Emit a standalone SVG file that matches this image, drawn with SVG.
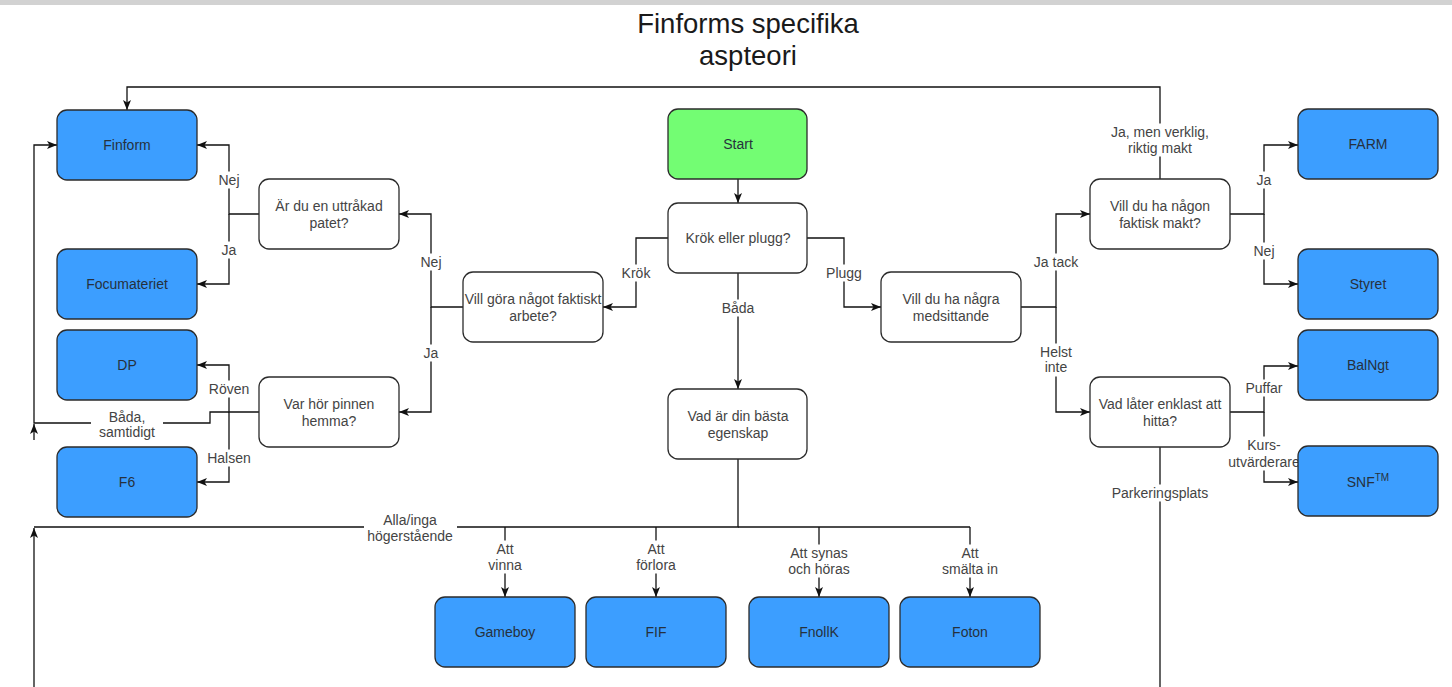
<svg xmlns="http://www.w3.org/2000/svg" width="1452" height="687" viewBox="0 0 1452 687">
<defs>
<style>
.box{stroke:#2b2b2b;stroke-width:1.3}
.q{fill:#ffffff}
.b{fill:#3c9eff}
.g{fill:#73fd73}
.t{font-family:"Liberation Sans",Arial,sans-serif;font-size:14px;fill:#444444;text-anchor:middle}
.bt{fill:#26313d}
.e{fill:none;stroke:#111111;stroke-width:1.3}
.lb{fill:#ffffff;stroke:none}
.title{font-family:"Liberation Sans",Arial,sans-serif;font-size:27.5px;fill:#1a1a1a;text-anchor:middle}
</style>
<marker id="arr" viewBox="0 0 10 8" refX="10" refY="4" markerWidth="10" markerHeight="8" markerUnits="userSpaceOnUse" orient="auto">
<path d="M0,0 L10,4 L0,8 L2.5,4 Z" fill="#111111"/>
</marker>
</defs>
<rect x="0" y="0" width="1452" height="687" fill="#ffffff"/>
<rect x="0" y="0" width="1452" height="5" fill="#d2d2d2"/>

<g id="title">
<text class="title" x="748" y="33">Finforms specifika</text>
<text class="title" x="748" y="65">aspteori</text>
</g>

<g id="connectors">
<path class="e" d="M738,179 V203" marker-end="url(#arr)"/>
<path class="e" d="M668,238 H636 V307 H603" marker-end="url(#arr)"/>
<path class="e" d="M807,238 H844 V307 H881" marker-end="url(#arr)"/>
<path class="e" d="M738,273 V389" marker-end="url(#arr)"/>
<path class="e" d="M463,307 H431 V214 H399" marker-end="url(#arr)"/>
<path class="e" d="M431,307 V412 H399" marker-end="url(#arr)"/>
<path class="e" d="M259,214 H229 V145 H197" marker-end="url(#arr)"/>
<path class="e" d="M229,214 V284 H197" marker-end="url(#arr)"/>
<path class="e" d="M259,412 H229 V365 H197" marker-end="url(#arr)"/>
<path class="e" d="M229,412 V482 H197" marker-end="url(#arr)"/>
<path class="e" d="M229,412 H210 V423 H34 V145 H57" marker-end="url(#arr)"/>
<path class="e" d="M34,440 V424" marker-end="url(#arr)"/>
<path class="e" d="M738,459 V527 H34"/>
<path class="e" d="M34,687 V528" marker-end="url(#arr)"/>
<path class="e" d="M738,527 H970"/>
<path class="e" d="M505,527 V597" marker-end="url(#arr)"/>
<path class="e" d="M656,527 V597" marker-end="url(#arr)"/>
<path class="e" d="M819,527 V597" marker-end="url(#arr)"/>
<path class="e" d="M970,527 V597" marker-end="url(#arr)"/>
<path class="e" d="M1021,307 H1056 V214 H1090" marker-end="url(#arr)"/>
<path class="e" d="M1056,307 V412 H1090" marker-end="url(#arr)"/>
<path class="e" d="M1230,214 H1264 V145 H1298" marker-end="url(#arr)"/>
<path class="e" d="M1264,214 V284 H1298" marker-end="url(#arr)"/>
<path class="e" d="M1160,179 V87 H127 V110" marker-end="url(#arr)"/>
<path class="e" d="M1230,412 H1264 V366 H1298" marker-end="url(#arr)"/>
<path class="e" d="M1264,412 V482 H1298" marker-end="url(#arr)"/>
<path class="e" d="M1160,446 V687"/>

<rect class="lb" x="215" y="171.5" width="28" height="17"/>
<text class="t" x="229" y="185">Nej</text>
<rect class="lb" x="220" y="241.5" width="18" height="17"/>
<text class="t" x="229" y="255">Ja</text>
<rect class="lb" x="417" y="253.5" width="28" height="17"/>
<text class="t" x="431" y="267">Nej</text>
<rect class="lb" x="422" y="344.5" width="18" height="17"/>
<text class="t" x="431" y="358">Ja</text>
<rect class="lb" x="207" y="380.5" width="44" height="17"/>
<text class="t" x="229" y="394">Röven</text>
<rect class="lb" x="205" y="449.5" width="48" height="17"/>
<text class="t" x="229" y="463">Halsen</text>
<rect class="lb" x="91" y="408.5" width="72" height="32"/>
<text class="t" x="127" y="422">Båda,</text>
<text class="t" x="127" y="437">samtidigt</text>
<rect class="lb" x="364" y="511.5" width="93" height="33"/>
<text class="t" x="410" y="525">Alla/inga</text>
<text class="t" x="410" y="541">högerstående</text>
<rect class="lb" x="619" y="264.5" width="34" height="17"/>
<text class="t" x="636" y="278">Krök</text>
<rect class="lb" x="825" y="264.5" width="38" height="17"/>
<text class="t" x="844" y="278">Plugg</text>
<rect class="lb" x="719" y="299.5" width="38" height="17"/>
<text class="t" x="738" y="313">Båda</text>
<rect class="lb" x="485" y="540.5" width="40" height="33"/>
<text class="t" x="505" y="554">Att</text>
<text class="t" x="505" y="570">vinna</text>
<rect class="lb" x="634" y="540.5" width="44" height="33"/>
<text class="t" x="656" y="554">Att</text>
<text class="t" x="656" y="570">förlora</text>
<rect class="lb" x="786" y="544.5" width="66" height="33"/>
<text class="t" x="819" y="558">Att synas</text>
<text class="t" x="819" y="574">och höras</text>
<rect class="lb" x="940" y="544.5" width="60" height="33"/>
<text class="t" x="970" y="558">Att</text>
<text class="t" x="970" y="574">smälta in</text>
<rect class="lb" x="1031" y="253.5" width="50" height="17"/>
<text class="t" x="1056" y="267">Ja tack</text>
<rect class="lb" x="1037" y="343.5" width="38" height="33"/>
<text class="t" x="1056" y="357">Helst</text>
<text class="t" x="1056" y="372">inte</text>
<rect class="lb" x="1255" y="171.5" width="18" height="17"/>
<text class="t" x="1264" y="185">Ja</text>
<rect class="lb" x="1250" y="242.5" width="28" height="17"/>
<text class="t" x="1264" y="256">Nej</text>
<rect class="lb" x="1109" y="123.5" width="102" height="33"/>
<text class="t" x="1160" y="137">Ja, men verklig,</text>
<text class="t" x="1160" y="153">riktig makt</text>
<rect class="lb" x="1242" y="379.5" width="44" height="17"/>
<text class="t" x="1264" y="393">Puffar</text>
<rect class="lb" x="1228" y="436.5" width="72" height="34"/>
<text class="t" x="1264" y="450">Kurs-</text>
<text class="t" x="1264" y="467">utvärderare</text>
<rect class="lb" x="1110" y="484.5" width="100" height="17"/>
<text class="t" x="1160" y="498">Parkeringsplats</text>
</g>

<g id="node-start"><rect class="box g" x="668" y="109" width="139" height="70" rx="10"/><text class="t bt" x="738" y="149">Start</text></g>
<g id="node-krok"><rect class="box q" x="668" y="203" width="139" height="70" rx="10"/><text class="t" x="738" y="243">Krök eller plugg?</text></g>
<g id="node-vad-basta"><rect class="box q" x="668" y="389" width="139" height="70" rx="10"/><text class="t" x="738" y="420.5">Vad är din bästa</text><text class="t" x="738" y="437.5">egenskap</text></g>
<g id="node-vill-gora"><rect class="box q" x="463" y="272" width="140" height="70" rx="10"/><text class="t" x="533" y="303.5">Vill göra något faktiskt</text><text class="t" x="533" y="320.5">arbete?</text></g>
<g id="node-uttrakad"><rect class="box q" x="259" y="179" width="140" height="70" rx="10"/><text class="t" x="329" y="210.5">Är du en uttråkad</text><text class="t" x="329" y="227.5">patet?</text></g>
<g id="node-pinnen"><rect class="box q" x="259" y="377" width="140" height="70" rx="10"/><text class="t" x="329" y="408.5">Var hör pinnen</text><text class="t" x="329" y="425.5">hemma?</text></g>
<g id="node-finform"><rect class="box b" x="57" y="110" width="140" height="70" rx="10"/><text class="t bt" x="127" y="150">Finform</text></g>
<g id="node-focumateriet"><rect class="box b" x="57" y="249" width="140" height="70" rx="10"/><text class="t bt" x="127" y="289">Focumateriet</text></g>
<g id="node-dp"><rect class="box b" x="57" y="330" width="140" height="70" rx="10"/><text class="t bt" x="127" y="370">DP</text></g>
<g id="node-f6"><rect class="box b" x="57" y="447" width="140" height="70" rx="10"/><text class="t bt" x="127" y="487">F6</text></g>
<g id="node-medsittande"><rect class="box q" x="881" y="272" width="140" height="70" rx="10"/><text class="t" x="951" y="303.5">Vill du ha några</text><text class="t" x="951" y="320.5">medsittande</text></g>
<g id="node-makt"><rect class="box q" x="1090" y="179" width="140" height="70" rx="10"/><text class="t" x="1160" y="210.5">Vill du ha någon</text><text class="t" x="1160" y="227.5">faktisk makt?</text></g>
<g id="node-hitta"><rect class="box q" x="1090" y="377" width="140" height="70" rx="10"/><text class="t" x="1160" y="408.5">Vad låter enklast att</text><text class="t" x="1160" y="425.5">hitta?</text></g>
<g id="node-farm"><rect class="box b" x="1298" y="109" width="140" height="70" rx="10"/><text class="t bt" x="1368" y="149">FARM</text></g>
<g id="node-styret"><rect class="box b" x="1298" y="249" width="140" height="70" rx="10"/><text class="t bt" x="1368" y="289">Styret</text></g>
<g id="node-balngt"><rect class="box b" x="1298" y="330" width="140" height="70" rx="10"/><text class="t bt" x="1368" y="370">BalNgt</text></g>
<g id="node-snf"><rect class="box b" x="1298" y="446" width="140" height="70" rx="10"/><text class="t bt" x="1368" y="487">SNF<tspan font-size="10" dy="-6">TM</tspan></text></g>
<g id="node-gameboy"><rect class="box b" x="435" y="597" width="140" height="70" rx="10"/><text class="t bt" x="505" y="637">Gameboy</text></g>
<g id="node-fif"><rect class="box b" x="586" y="597" width="140" height="70" rx="10"/><text class="t bt" x="656" y="637">FIF</text></g>
<g id="node-fnollk"><rect class="box b" x="749" y="597" width="140" height="70" rx="10"/><text class="t bt" x="819" y="637">FnollK</text></g>
<g id="node-foton"><rect class="box b" x="900" y="597" width="140" height="70" rx="10"/><text class="t bt" x="970" y="637">Foton</text></g>
</svg>
